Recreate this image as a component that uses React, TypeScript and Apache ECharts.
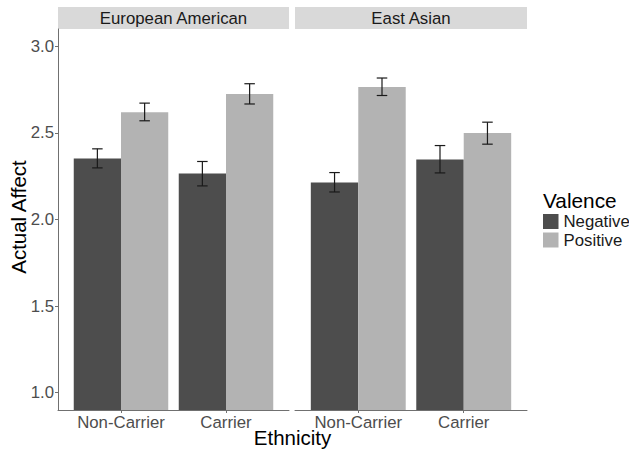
import React, { useEffect, useRef } from "react";
import * as echarts from "echarts";

const facets = ["European American", "East Asian"];
const categories = ["Non-Carrier", "Carrier"];
const valenceLevels = ["Negative", "Positive"];
const yTicks = [1.0, 1.5, 2.0, 2.5, 3.0];

// [category position, mean, lower, upper]
const euroNegative = [
  [1, 2.352, 2.298, 2.408],
  [2, 2.265, 2.194, 2.335],
];
const euroPositive = [
  [1, 2.62, 2.57, 2.672],
  [2, 2.725, 2.667, 2.784],
];
const asianNegative = [
  [1, 2.213, 2.159, 2.271],
  [2, 2.346, 2.269, 2.427],
];
const asianPositive = [
  [1, 2.765, 2.716, 2.817],
  [2, 2.499, 2.435, 2.562],
];

const FONT = "'Liberation Sans', Arial, Helvetica, sans-serif";
const DARK = "#4d4d4d";
const LIGHT = "#b3b3b3";
const AXIS = "#707070";
const Y_MIN = 0.9;
const Y_MAX = 3.1;
const LABEL_SIZE = 16.8;

const grids = [
  { left: 58, top: 29, width: 231, height: 381 },
  { left: 295, top: 29, width: 232, height: 381 },
];

function makeSeries(name: string, data: number[][], side: number, gridIndex: number, color: string) {
  return {
    type: "custom",
    name,
    xAxisIndex: gridIndex,
    yAxisIndex: gridIndex,
    itemStyle: { color },
    data,
    clip: true,
    renderItem: (params: any, api: any) => {
      const x = api.value(0);
      const y = api.value(1);
      const lo = api.value(2);
      const hi = api.value(3);
      const bw = 0.45;
      const x0 = side < 0 ? x - bw : x;
      const pTop = api.coord([x0, y]);
      const pBot = api.coord([x0 + bw, Y_MIN]);
      const cx = api.coord([x0 + bw / 2, hi]);
      const cl = api.coord([x0 + bw / 2, lo]);
      const capL = api.coord([x0 + bw / 2 - 0.05, hi])[0];
      const capR = api.coord([x0 + bw / 2 + 0.05, hi])[0];
      const lineStyle = { stroke: "#1a1a1a", lineWidth: 1.2 };
      return {
        type: "group",
        children: [
          {
            type: "rect",
            shape: { x: pTop[0], y: pTop[1], width: pBot[0] - pTop[0], height: pBot[1] - pTop[1] },
            style: { fill: color },
          },
          { type: "line", shape: { x1: cx[0], y1: cx[1], x2: cl[0], y2: cl[1] }, style: lineStyle },
          { type: "line", shape: { x1: capL, y1: cx[1], x2: capR, y2: cx[1] }, style: lineStyle },
          { type: "line", shape: { x1: capL, y1: cl[1], x2: capR, y2: cl[1] }, style: lineStyle },
        ],
      };
    },
  };
}

export default function App() {
  const ref = useRef<HTMLDivElement>(null);
  useEffect(() => {
    if (!ref.current) return;
    const chart = echarts.init(ref.current, undefined, { renderer: "svg" });
    const xAxes = grids.map((_, i) => ({
      type: "value",
      gridIndex: i,
      min: 0.4,
      max: 2.6,
      axisLine: { show: true, lineStyle: { color: AXIS, width: 1 } },
      axisTick: { show: true, customValues: [1, 2], length: 3, lineStyle: { color: AXIS } },
      axisLabel: {
        show: true,
        customValues: [1, 2],
        formatter: (v: number) => categories[Math.round(v) - 1] ?? "",
        color: "#4d4d4d",
        fontSize: LABEL_SIZE,
        fontFamily: FONT,
        margin: 4,
      },
      splitLine: { show: false },
    }));
    const yAxes = grids.map((_, i) => ({
      type: "value",
      gridIndex: i,
      min: Y_MIN,
      max: Y_MAX,
      show: i === 0,
      axisLine: { show: i === 0, lineStyle: { color: AXIS, width: 1 } },
      axisTick: { show: i === 0, customValues: yTicks, length: 3, lineStyle: { color: AXIS } },
      axisLabel: {
        show: i === 0,
        customValues: yTicks,
        formatter: (v: number) => v.toFixed(1),
        color: "#4d4d4d",
        fontSize: LABEL_SIZE,
        fontFamily: FONT,
        margin: 4,
      },
      splitLine: { show: false },
    }));
    const strips: any[] = [];
    grids.forEach((g, i) => {
      strips.push({
        type: "rect",
        shape: { x: g.left, y: 7, width: g.width, height: 22 },
        style: { fill: "#d9d9d9" },
      });
      strips.push({
        type: "text",
        x: g.left + g.width / 2,
        y: 18.5,
        style: {
          text: facets[i],
          fill: "#1a1a1a",
          font: `${LABEL_SIZE}px ${FONT}`,
          textAlign: "center",
          textVerticalAlign: "middle",
        },
      });
    });
    chart.setOption({
      animation: false,
      backgroundColor: "#ffffff",
      grid: grids.map((g) => ({ ...g, containLabel: false })),
      xAxis: xAxes,
      yAxis: yAxes,
      legend: {
        orient: "vertical",
        left: 543,
        top: 213,
        itemWidth: 15.5,
        itemHeight: 15,
        itemGap: 1.5,
        padding: 0,
        selectedMode: false,
        textStyle: { fontSize: LABEL_SIZE, fontFamily: FONT, color: "#1a1a1a", lineHeight: 15 },
        data: [
          { name: valenceLevels[0], icon: "rect", itemStyle: { color: DARK } },
          { name: valenceLevels[1], icon: "rect", itemStyle: { color: LIGHT } },
        ],
      },
      graphic: [
        ...strips,
        {
          type: "text",
          x: 543,
          y: 200,
          style: {
            text: "Valence",
            fill: "#000000",
            font: `20.8px ${FONT}`,
            textAlign: "left",
            textVerticalAlign: "middle",
          },
        },
        {
          type: "text",
          x: 292.5,
          y: 437.5,
          style: {
            text: "Ethnicity",
            fill: "#000000",
            font: `20.5px ${FONT}`,
            textAlign: "center",
            textVerticalAlign: "middle",
          },
        },
        {
          type: "text",
          x: 18,
          y: 217,
          rotation: Math.PI / 2,
          style: {
            text: "Actual Affect",
            fill: "#000000",
            font: `20.5px ${FONT}`,
            textAlign: "center",
            textVerticalAlign: "middle",
          },
        },
      ],
      series: [
        makeSeries(valenceLevels[0], euroNegative, -1, 0, DARK),
        makeSeries(valenceLevels[1], euroPositive, 1, 0, LIGHT),
        makeSeries(valenceLevels[0], asianNegative, -1, 1, DARK),
        makeSeries(valenceLevels[1], asianPositive, 1, 1, LIGHT),
      ],
    });
    return () => chart.dispose();
  }, []);
  return (
    <div
      ref={ref}
      style={{ position: "fixed", left: 0, top: 0, width: 629, height: 452, background: "#fff" }}
    />
  );
}
